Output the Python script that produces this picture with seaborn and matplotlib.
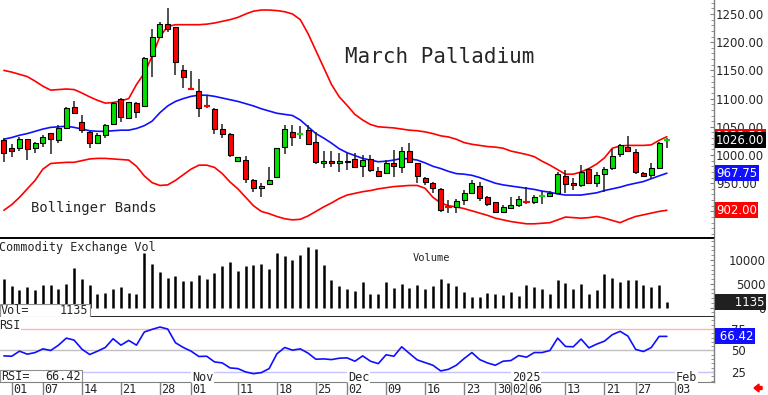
import numpy as np
import matplotlib
matplotlib.use("Agg")
import matplotlib.pyplot as plt
import matplotlib.transforms as mtrans
import seaborn as sns

# daily bars, Sep 30 2024 .. Jan 31 2025 (trading days only)
opens = [1026.6, 1012.4, 1013.0, 1027.8, 1011.8, 1021.9, 1038.4, 1026.6, 1048.5, 1085.7,
         1059.1, 1041.4, 1021.9, 1036.1, 1054.4, 1098.7, 1065.0, 1092.8, 1087.5, 1175.5,
         1208.6, 1231.7, 1226.4, 1150.7, 1118.8, 1114.1, 1087.5, 1081.0, 1046.1, 1037.2,
         990.0, 991.1, 955.7, 940.9, 948.6, 960.4, 1014.8, 1040.2, 1036.0, 1044.3,
         1023.6, 985.8, 989.3, 985.2, 987.0, 992.9, 980.5, 992.3, 971.6, 967.5,
         986.4, 979.3, 1007.7, 985.2, 959.8, 950.9, 939.1, 909.0, 907.2, 920.2,
         933.2, 945.0, 924.9, 916.7, 899.5, 906.7, 911.4, 917.9, 917.3, 926.8,
         927.9, 933.3, 963.4, 951.0, 946.9, 975.2, 949.8, 966.4, 976.4, 1001.2,
         1014.8, 1006.0, 967.5, 964.6, 977.6, 1024.5]
highs = [1029.6, 1019.0, 1031.3, 1029.0, 1023.6, 1035.5, 1039.6, 1053.2, 1084.5, 1095.7,
         1070.9, 1042.6, 1038.4, 1055.0, 1094.5, 1101.7, 1094.5, 1094.0, 1174.4, 1222.8,
         1236.4, 1260.0, 1227.5, 1159.6, 1148.9, 1134.2, 1106.4, 1082.7, 1055.0, 1039.6,
         997.0, 999.0, 957.4, 949.7, 978.1, 1013.0, 1053.2, 1053.2, 1051.4, 1053.2,
         1041.4, 1007.7, 1007.1, 1002.9, 1004.1, 1004.1, 1000.0, 1000.0, 979.3, 991.1,
         1008.9, 1014.8, 1021.9, 986.4, 961.6, 952.7, 940.9, 920.2, 921.4, 937.9,
         955.7, 952.7, 927.3, 917.3, 911.3, 925.0, 927.3, 943.9, 929.1, 936.8,
         936.8, 970.5, 973.4, 958.7, 982.3, 976.4, 970.5, 978.2, 1010.1, 1019.5,
         1033.7, 1010.1, 970.5, 985.3, 1023.7, 1030.0]
lows = [987.0, 997.0, 1007.7, 991.1, 1004.1, 1014.8, 1001.2, 1021.9, 1047.0, 1073.9,
        1038.4, 1011.8, 1020.7, 1029.6, 1053.2, 1059.1, 1064.5, 1065.0, 1086.9, 1138.9,
        1208.0, 1218.7, 1141.8, 1118.2, 1115.2, 1066.8, 1082.7, 1036.6, 1030.7, 997.0,
        987.0, 949.8, 935.0, 924.9, 946.8, 958.6, 1001.8, 1016.5, 1027.8, 1017.7,
        984.0, 976.3, 979.3, 970.4, 973.4, 976.4, 961.6, 970.5, 961.6, 966.3,
        961.6, 967.5, 985.2, 949.8, 946.8, 932.0, 899.5, 896.6, 896.6, 911.3,
        932.0, 919.0, 909.6, 896.6, 896.6, 903.7, 907.2, 913.2, 913.2, 913.2,
        926.2, 932.1, 932.1, 938.0, 943.9, 948.6, 943.9, 935.0, 973.4, 997.1,
        1005.4, 966.4, 960.4, 956.9, 976.4, 1012.0]
closes = [1004.1, 1007.7, 1027.8, 1010.6, 1020.7, 1032.5, 1027.8, 1048.5, 1082.7, 1075.1,
          1044.3, 1021.9, 1035.5, 1053.2, 1091.6, 1066.8, 1094.5, 1075.7, 1172.6, 1208.6,
          1231.7, 1222.8, 1165.5, 1138.9, 1117.6, 1082.7, 1086.3, 1045.5, 1036.6, 1000.0,
          995.9, 957.0, 941.5, 945.6, 955.7, 1011.8, 1045.5, 1032.5, 1037.2, 1019.5,
          987.6, 989.3, 985.2, 990.0, 990.0, 979.3, 991.1, 973.4, 963.4, 986.4,
          981.1, 1007.7, 988.2, 962.8, 951.5, 940.9, 902.5, 907.8, 918.4, 933.2,
          950.9, 923.2, 913.1, 899.5, 908.4, 911.4, 921.4, 916.7, 926.2, 927.9,
          933.3, 966.4, 948.0, 946.9, 970.5, 949.8, 964.6, 974.6, 998.3, 1017.8,
          1007.7, 970.5, 962.8, 976.4, 1021.9, 1026.0]

bb_upper = [1150, 1147, 1143, 1139, 1131, 1122, 1115, 1116, 1117, 1116,
            1110, 1103, 1097, 1092, 1093, 1096, 1100, 1125, 1145, 1175,
            1210, 1228, 1231, 1231, 1231, 1231, 1232, 1234, 1237, 1240,
            1244, 1250, 1255, 1257, 1257, 1256, 1254, 1250, 1240, 1215,
            1185, 1155, 1125, 1103, 1088, 1072, 1062, 1054, 1050, 1049,
            1048, 1046, 1044, 1043, 1041, 1038, 1034, 1032, 1028, 1022,
            1019, 1017, 1015, 1014, 1012, 1007, 1004, 1001, 997, 989,
            982, 974, 966, 966, 970, 976, 984, 995, 1012, 1016,
            1017, 1017, 1017, 1018, 1026, 1032.5]
bb_mid = [1028, 1031, 1035, 1038, 1042, 1046, 1049, 1050, 1051, 1049,
          1046, 1043, 1042, 1042, 1043, 1044, 1044, 1047, 1052, 1060,
          1075, 1087, 1095, 1100, 1104, 1106, 1106, 1104, 1101, 1098,
          1095, 1091, 1087, 1082, 1078, 1074, 1072, 1070, 1062, 1050,
          1038, 1030, 1021, 1011, 1004, 999, 994, 991, 988, 989,
          991, 994, 993, 991, 986, 980, 976, 971, 967, 966,
          964, 960, 955, 950, 947, 945, 943, 941, 939, 936,
          934, 931, 929, 929, 929, 931, 933, 937, 940, 943,
          947, 950, 953, 958, 963, 967.75]
bb_lower = [902, 912, 925, 940, 955, 975, 985, 986, 987, 987,
            990, 993, 994, 994, 993, 992, 991, 980, 963, 951,
            946, 947, 955, 965, 975, 982, 982, 978, 967, 952,
            940, 925, 910, 900, 896, 891, 887, 885, 886, 892,
            900, 908, 915, 923, 929, 932, 935, 937, 940, 942,
            944, 945, 946, 946, 941, 925, 915, 910, 908, 905,
            901, 897, 893, 888, 885, 882, 880, 878, 878, 879,
            880, 885, 890, 889, 888, 889, 891, 888, 884, 880,
            886, 891, 894, 897, 900, 902]

volume = [5940, 4610, 3700, 4400, 3700, 4750, 4820, 3910, 4960, 8320,
          6010, 4750, 2800, 3070, 3980, 4330, 3000, 2800, 11390, 9080,
          7480, 6150, 6710, 5660, 5520, 6850, 6010, 7270, 8740, 9570,
          7620, 8810, 8940, 9220, 8180, 11530, 10900, 9920, 10970, 12720,
          12300, 8870, 5870, 4540, 3980, 3560, 5380, 2870, 2870, 5450,
          4190, 5030, 4190, 4750, 3910, 4540, 6010, 5240, 4610, 3350,
          2170, 2310, 3000, 2800, 2660, 3350, 2520, 4750, 4400, 3980,
          2870, 5800, 5100, 3910, 4890, 2940, 3630, 7060, 6220, 5380,
          5800, 5800, 4750, 4330, 4750, 1135]

rsi = [43.7, 43.3, 49.2, 45.7, 47.6, 51.9, 50.0, 56.2, 64.4, 62.1,
       51.6, 45.3, 49.2, 53.5, 63.7, 56.2, 61.7, 56.2, 71.5, 74.6,
       77.3, 75.0, 59.0, 53.5, 49.2, 43.0, 43.3, 36.7, 35.5, 29.7,
       28.9, 25.0, 23.0, 24.2, 28.9, 46.1, 53.5, 50.4, 51.9, 46.9,
       39.8, 40.2, 39.4, 41.0, 41.4, 37.5, 43.7, 37.5, 34.7, 45.0,
       43.3, 54.3, 46.5, 39.0, 35.9, 32.8, 26.2, 28.1, 32.8, 40.6,
       47.6, 39.4, 35.5, 32.8, 37.5, 38.3, 44.1, 42.2, 47.6, 47.6,
       50.0, 64.4, 54.7, 54.3, 63.3, 53.1, 57.4, 60.9, 68.4, 72.3,
       66.8, 51.2, 48.8, 53.5, 66.4, 66.42]

# date axis: bar index of each labelled day
day_pos = [1, 5, 10, 15, 20, 24, 30, 35, 40, 44, 49, 54, 59, 63, 65, 67, 72, 77, 81, 86]
day_labels = ["01", "07", "14", "21", "28", "01", "11", "18", "25", "02",
              "09", "16", "23", "30", "02", "06", "13", "21", "27", "03"]
month_pos = [24, 44, 65, 86]
month_labels = ["Nov", "Dec", "2025", "Feb"]

GREEN = "#00e000"
RED = "#ff0000"
BLUE = "#1010ff"
W, H = 768, 395
XLIM = (-0.5, 91.04)

sns.set_style("white")
plt.rcParams["font.family"] = ["DejaVu Sans"]
MONO = "DejaVu Sans Mono"


def box(left, top, right, bottom):
    return [left / W, 1 - bottom / H, (right - left) / W, (bottom - top) / H]


def right_axis(ax, pad_px, ha):
    ax.yaxis.tick_right()
    ax.tick_params(axis="y", direction="in", length=3, width=0.8, color="#808080",
                   pad=pad_px * 72 / 100, labelsize=8.5)
    for lab in ax.get_yticklabels():
        lab.set_ha(ha)
    for s in ["top", "left", "bottom"]:
        ax.spines[s].set_visible(False)
    ax.spines["right"].set_color("#808080")
    ax.spines["right"].set_linewidth(1)
    ax.set_xticks([])
    ax.set_xlim(*XLIM)


def side_tag(ax, val, text, fc, fs=8.5):
    tr = mtrans.blended_transform_factory(ax.transAxes, ax.transData)
    ax.text(1.003, val, text, transform=tr, ha="left", va="center", color="white",
            fontsize=fs, zorder=10, clip_on=False,
            bbox=dict(boxstyle="square,pad=0.12", fc=fc, ec="none"))


fig = plt.figure(figsize=(W / 100, H / 100), dpi=100)
fig.patch.set_facecolor("white")

idx = np.arange(len(closes))
o = np.array(opens)
c = np.array(closes)

# ---- price panel
ax = fig.add_axes(box(0, 0, 714, 236))
ax.set_ylim(856.4, 1274.8)
ax.set_yticks(np.arange(900, 1251, 50))
ax.yaxis.set_major_formatter(matplotlib.ticker.FormatStrFormatter("%.2f"))
ax.yaxis.set_minor_locator(matplotlib.ticker.MultipleLocator(10))
right_axis(ax, 2, "left")
ax.tick_params(axis="y", which="minor", direction="in", length=2, color="#808080")

sns.lineplot(x=idx, y=bb_upper, ax=ax, color=RED, lw=1.2, zorder=2)
sns.lineplot(x=idx, y=bb_lower, ax=ax, color=RED, lw=1.2, zorder=2)
sns.lineplot(x=idx, y=bb_mid, ax=ax, color=BLUE, lw=1.2, zorder=2)

ax.vlines(idx, lows, highs, color="#202020", lw=1.1, zorder=3)
body = np.abs(c - o)
up = c >= o
cols = np.where(up, GREEN, RED)
big = body >= 2.5
ax.bar(idx[big], body[big], bottom=np.minimum(o, c)[big], width=0.62,
       color=cols[big], edgecolor="black", linewidth=0.8, zorder=4)
ax.hlines(c[~big], idx[~big] - 0.4, idx[~big] + 0.4, colors=cols[~big], lw=1.6, zorder=4)

fig.text(345 / W, 1 - 57 / H, "March Palladium", fontsize=15, family=MONO,
         va="center", ha="left")
ax.text(0.043, 0.118, "Bollinger Bands", transform=ax.transAxes, fontsize=10,
        family=MONO, va="center", ha="left")

side_tag(ax, bb_upper[-1], "%.2f" % bb_upper[-1], RED)
side_tag(ax, closes[-1], "%.2f" % closes[-1], "black")
side_tag(ax, bb_mid[-1], "%.2f" % bb_mid[-1], BLUE)
side_tag(ax, bb_lower[-1], "%.2f" % bb_lower[-1], RED)

# ---- volume panel
axv = fig.add_axes(box(0, 237.7, 714, 317))
axv.set_ylim(-1950, 14680)
axv.set_yticks([0, 5000, 10000])
right_axis(axv, 52, "right")
axv.yaxis.set_minor_locator(matplotlib.ticker.MultipleLocator(1000))
axv.tick_params(axis="y", which="minor", direction="in", length=2, color="#808080")
axv.vlines(idx, 0, volume, color="black", lw=1.8)
axv.axhline(14680, color="black", lw=1.4, clip_on=False)
axv.axhline(-1950, color="black", lw=1.2, clip_on=False)
axv.text(-0.002, 0.88, "Commodity Exchange Vol", transform=axv.transAxes, family=MONO,
         fontsize=8.5, va="center", ha="left")
axv.text(0.578, 0.74, "Volume", transform=axv.transAxes, family=MONO,
         fontsize=7.5, va="center", ha="left")
axv.add_patch(plt.Rectangle((0, 0.005), 90 / 714, 0.16, transform=axv.transAxes,
                            fc="white", ec="#909090", lw=0.8, zorder=6))
axv.text(0.001, 0.085, "Vol=", transform=axv.transAxes, family=MONO, fontsize=8.5,
         va="center", ha="left", zorder=7)
axv.text(88 / 714, 0.085, "%d" % volume[-1], transform=axv.transAxes, family=MONO,
         fontsize=8.5, va="center", ha="right", zorder=7)
side_tag(axv, 1135, "     %d" % volume[-1], "#202020")

# ---- RSI panel
axr = fig.add_axes(box(0, 317, 714, 382))
axr.set_ylim(13.3, 89)
axr.set_yticks([25, 50, 75])
right_axis(axr, 17, "left")
axr.yaxis.set_minor_locator(matplotlib.ticker.MultipleLocator(5))
axr.tick_params(axis="y", which="minor", direction="in", length=2, color="#808080")
axr.spines["bottom"].set_visible(True)
axr.spines["bottom"].set_color("#808080")
axr.axhline(75, color="#ffb4b4", lw=1)
axr.axhline(50, color="#c0c0c0", lw=1)
axr.axhline(25, color="#c4c4ff", lw=1)
sns.lineplot(x=idx, y=rsi, ax=axr, color=BLUE, lw=1.2, zorder=3)
axr.text(-0.001, 0.87, "RSI", transform=axr.transAxes, family=MONO, fontsize=8.5,
         va="center", ha="left", bbox=dict(fc="white", ec="none", pad=0.5))
axr.add_patch(plt.Rectangle((0, 0.0), 82 / 714, 0.19, transform=axr.transAxes,
                            fc="white", ec="#909090", lw=0.8, zorder=6))
axr.text(0.001, 0.09, "RSI=", transform=axr.transAxes, family=MONO, fontsize=8.5,
         va="center", ha="left", zorder=7)
axr.text(81 / 714, 0.09, "%.2f" % rsi[-1], transform=axr.transAxes, family=MONO,
         fontsize=8.5, va="center", ha="right", zorder=7)
for p, lab in zip(month_pos, month_labels):
    axr.text(p + 0.1, 0.075, lab, transform=mtrans.blended_transform_factory(axr.transData, axr.transAxes),
             family=MONO, fontsize=8.5, va="center", ha="left", zorder=5,
             bbox=dict(fc="white", ec="none", pad=0.6))
side_tag(axr, rsi[-1], " %.2f" % rsi[-1], BLUE)

# ---- date row
axd = fig.add_axes(box(0, 382, 714, 395))
axd.set_xlim(*XLIM)
axd.set_ylim(0, 1)
axd.axis("off")
axd.vlines(day_pos, 0, 1, color="#808080", lw=1)
for p, lab in zip(day_pos, day_labels):
    axd.text(p + 0.2, 0.45, lab, family=MONO, fontsize=8.5, va="center", ha="left")

fig.patches.append(matplotlib.patches.FancyArrow(
    762 / W, 1 - 388 / H, -8 / W, 0, width=3 / H, head_width=8 / H, head_length=5 / W,
    length_includes_head=True, color=RED, transform=fig.transFigure, figure=fig))

fig.savefig("out.png", dpi=100)
